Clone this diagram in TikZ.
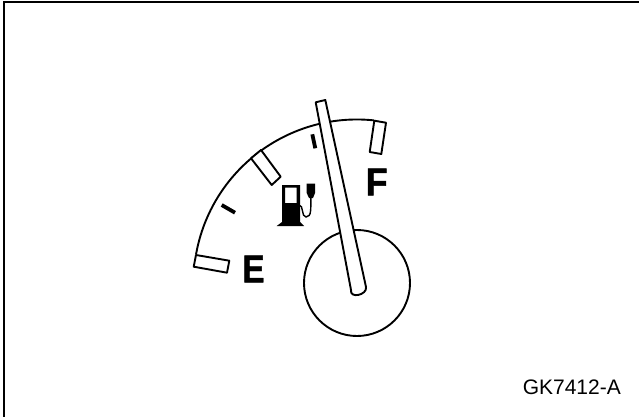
\documentclass[tikz,border=0pt]{standalone}
\usepackage{fontspec}
\setmainfont{Liberation Sans}
\usetikzlibrary{positioning, calc}
\tikzset{
  frameline/.style = {line width=2.2pt, line cap=rect},
  outline/.style   = {line width=1.9pt, line join=round},
  scalebox/.style  = {outline, fill=white},
  scaletick/.style = {line width=3.8pt},
  letter/.style    = {inner sep=0pt, transform shape, font=\fontsize{39}{39}\selectfont\bfseries\addfontfeatures{FakeBold=1.2}},
  partno/.style    = {inner sep=0pt, font=\fontsize{21}{21}\selectfont},
}
\begin{document}
\begin{tikzpicture}[x=1pt, y=-1pt]
  \useasboundingbox (0,0) rectangle (639,417);

  \draw[frameline] (4,417) -- (4,2) -- (639,2);

  % scale and hub
  \coordinate (hub) at (357,283);
  \draw[outline] ($(hub)+(-161,-28.4)$) arc[start angle=170, end angle=84, radius=163.5, y radius=-163.5];
  \draw[outline] (hub) circle[radius=53];

  % large marks
  \draw[scalebox] (196,255) -- (229.3,260.7) -- (227,272.7) -- (193.7,266.7) -- cycle;
  \draw[scalebox] (251,158.3) -- (261,150) -- (280.7,176.7) -- (271.7,185) -- cycle;
  \draw[scalebox] (374.3,120.7) -- (386,122.7) -- (381.3,154) -- (369.7,152) -- cycle;

  % small ticks
  \draw[scaletick] (221.7,205) -- (235,212.7);
  \draw[scaletick] (312.3,134.3) -- (315.3,148.3);

  % needle
  \draw[scalebox] (315.7,102.3) -- (325.3,100) -- (366,287)
    .. controls (367.5,295) and (349.5,299) .. (351,290) -- cycle;

  \node[letter, xscale=0.85] (empty) at (253.5,269) {E};
  \node[letter, xscale=0.92] (full) at (376.7,182) {F};
  \node[partno, anchor=east] (partno) at (621,387) {GK7412-A};

  % fuel pump
  \fill[even odd rule] (282,223) -- (282,185) -- (300,185) -- (300,223) -- cycle
    (285,187.5) rectangle (296.7,203);
  \fill (276.7,226) -- (282,222) -- (300,222) -- (304,226) -- cycle;
  \draw[line width=1.4pt] (299,205) .. controls (304,205) and (301,217) .. (306,217)
    .. controls (312,217) and (310.5,208) .. (311,196);
  \fill (306.7,183.5) -- (315,183.5) -- (315,193) -- (313,198) -- (309,198) -- (306.7,193) -- cycle;
\end{tikzpicture}
\end{document}
